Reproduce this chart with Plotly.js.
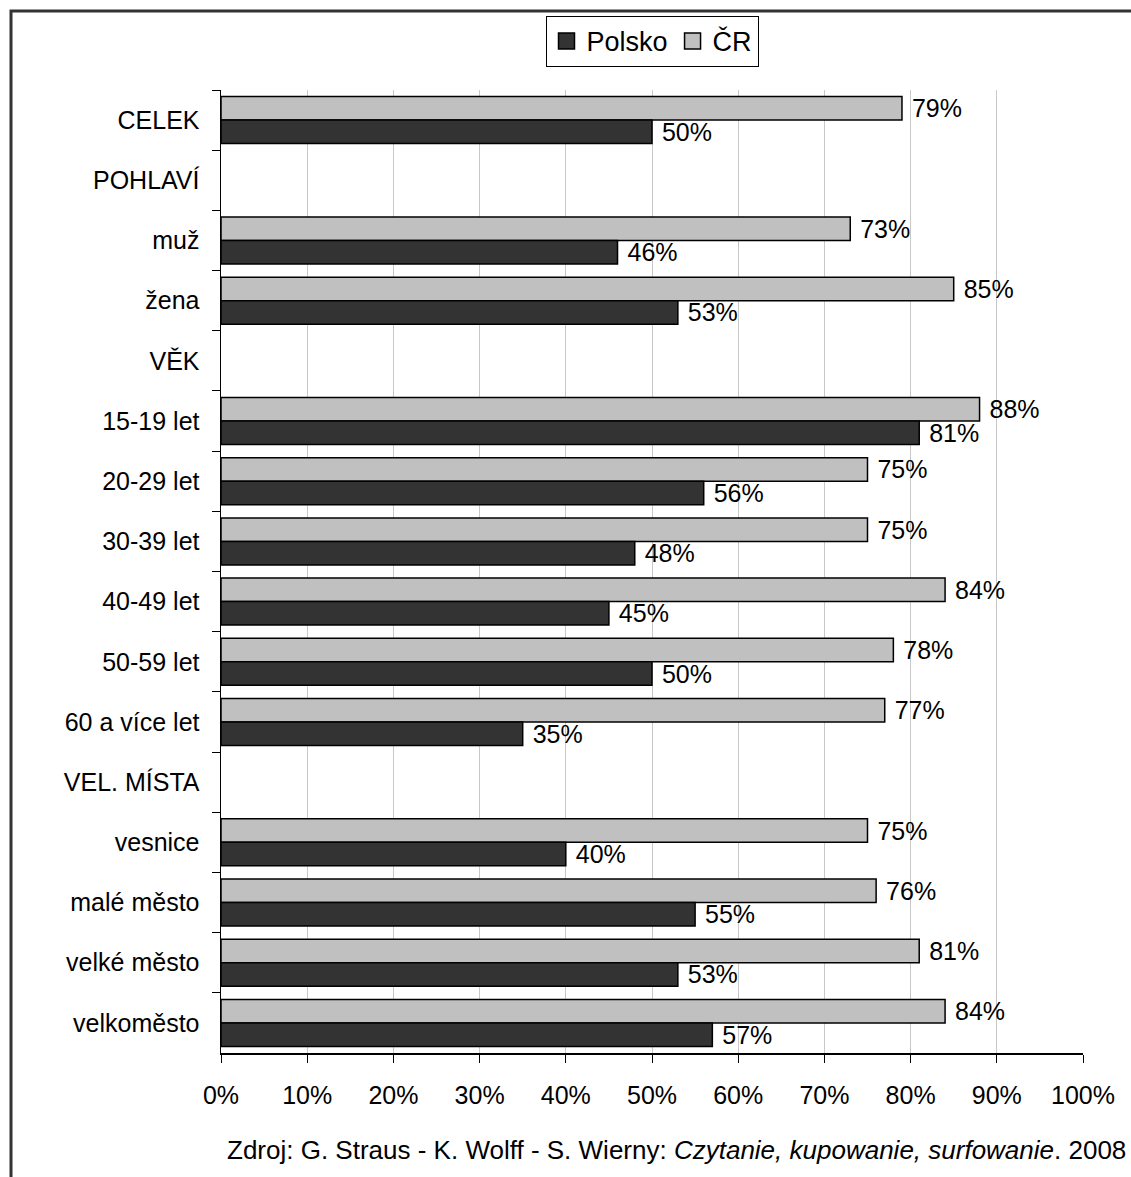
<!DOCTYPE html>
<html>
<head>
<meta charset="utf-8">
<script src="https://cdn.plot.ly/plotly-3.0.1.min.js"></script>
<style>html,body{margin:0;padding:0;background:#fff;}#chart{width:1131px;height:1177px;}</style>
</head>
<body>
<div id="chart"></div>
<script>
const categories = ["CELEK","POHLAVÍ","muž","žena","VĚK","15-19 let","20-29 let","30-39 let","40-49 let","50-59 let","60 a více let","VEL. MÍSTA","vesnice","malé město","velké město","velkoměsto"];
const polsko = [50,null,46,53,null,81,56,48,45,50,35,null,40,55,53,57];
const cr = [79,null,73,85,null,88,75,75,84,78,77,null,75,76,81,84];
const xTicks = [0,10,20,30,40,50,60,70,80,90,100];
const sourceNote = "Zdroj: G. Straus - K. Wolff - S. Wierny: <i>Czytanie, kupowanie, surfowanie</i>. 2008";

const fontFam = "Arial, Liberation Sans, sans-serif";
const pctText = arr => arr.map(v => v === null ? "" : "\u00a0" + v + "%");
const traces = [
  {type:"bar", orientation:"h", name:"ČR", y:categories, x:cr, showlegend:false,
   marker:{color:"#c0c0c0", line:{color:"#000", width:1.5}},
   text:pctText(cr), textposition:"outside", cliponaxis:false, constraintext:"none",
   textfont:{size:25,color:"#000",family:fontFam}},
  {type:"bar", orientation:"h", name:"Polsko", y:categories, x:polsko, showlegend:false,
   marker:{color:"#333333", line:{color:"#000", width:1.5}},
   text:pctText(polsko), textposition:"outside", cliponaxis:false, constraintext:"none",
   textfont:{size:25,color:"#000",family:fontFam}},
  {type:"scatter", mode:"markers", name:"Polsko", x:[null], y:[null], showlegend:true,
   marker:{symbol:"square", size:16, color:"#333333", line:{color:"#000", width:1.5}}},
  {type:"scatter", mode:"markers", name:"ČR", x:[null], y:[null], showlegend:true,
   marker:{symbol:"square", size:16, color:"#c0c0c0", line:{color:"#000", width:1.5}}}
];
const layout = {
  width:1131, height:1177,
  margin:{l:221, r:48, t:90, b:124, pad:0},
  paper_bgcolor:"#fff", plot_bgcolor:"#fff",
  font:{family:fontFam, size:25, color:"#000"},
  barmode:"group", bargap:0.22, bargroupgap:0,
  showlegend:true,
  legend:{orientation:"h", traceorder:"normal", x:0.5, xanchor:"center", y:1.077, yanchor:"top",
    bordercolor:"#000", borderwidth:1, bgcolor:"#fff", font:{size:27}, itemwidth:30},
  xaxis:{range:[0,100], tickvals:xTicks, ticktext:xTicks.map(v=>v+"%"),
    showgrid:true, gridcolor:"#c8c8c8", gridwidth:1,
    showline:true, linecolor:"#000", linewidth:1.5,
    ticks:"outside", ticklen:8, tickcolor:"#000", ticklabelstandoff:11,
    zeroline:false, fixedrange:true},
  yaxis:{type:"category", autorange:"reversed", showgrid:false,
    showline:true, linecolor:"#000", linewidth:1.5,
    ticks:"outside", tickson:"boundaries", ticklen:8, tickcolor:"#000",
    ticklabelstandoff:15, zeroline:false, fixedrange:true},
  shapes:[{type:"rect", xref:"paper", yref:"paper",
    x0:(11-221)/862, x1:(1150-221)/862, y0:(1053-1190)/963, y1:(1053-11)/963,
    line:{color:"#333", width:3}, fillcolor:"rgba(0,0,0,0)", layer:"below"}],
  annotations:[{text:sourceNote, xref:"paper", yref:"paper",
    x:(1128-221)/862, xanchor:"right", y:(1053-1150)/963, yanchor:"middle",
    showarrow:false, font:{size:26, color:"#000"}}]
};
Plotly.newPlot("chart", traces, layout, {displayModeBar:false, staticPlot:true});
</script>
</body>
</html>
